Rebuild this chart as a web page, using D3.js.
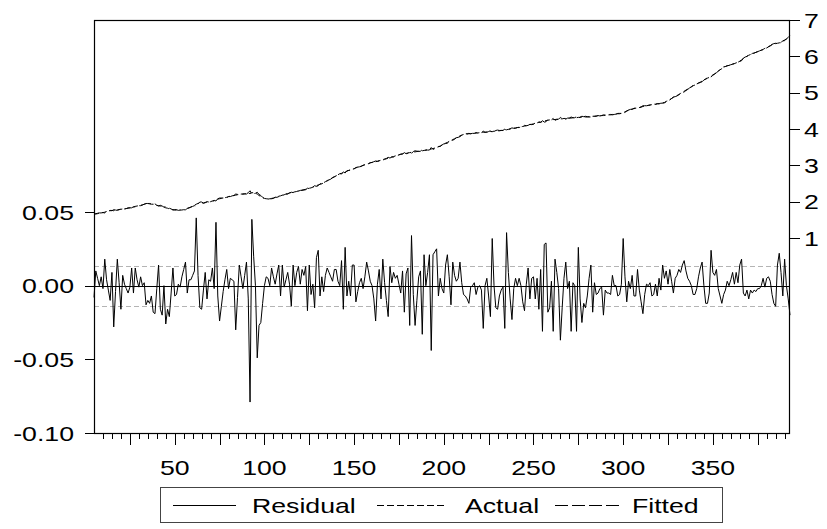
<!DOCTYPE html>
<html><head><meta charset="utf-8">
<script src="https://cdn.jsdelivr.net/npm/d3@7"></script>
<style>
body{margin:0;background:#fff}
text{font-family:"Liberation Sans",Arial,sans-serif;fill:#000;font-size:21px}
</style>
</head><body>
<svg id="c" width="827" height="529"></svg>
<script>
const firstObs = 5, lastObs = 393;

const residual = [
-0.008,0.010,0.005,0.000,0.006,-0.002,0.018,0.004,-0.003,-0.010,
0.009,-0.028,-0.004,0.018,0.002,-0.016,0.007,0.001,-0.002,-0.005,
-0.001,0.012,-0.005,0.012,0.004,-0.001,0.006,0.000,0.002,-0.013,
-0.010,-0.012,-0.007,-0.018,-0.019,-0.002,0.014,-0.016,-0.020,0.000,
-0.026,-0.016,-0.021,-0.005,0.012,-0.007,-0.006,0.001,-0.001,0.006,
0.011,0.016,-0.005,0.004,0.004,0.007,0.010,0.046,0.007,-0.015,
-0.016,-0.003,0.009,-0.009,0.004,0.003,0.012,-0.002,0.043,-0.007,
-0.024,-0.014,-0.004,0.004,0.011,-0.002,0.005,0.004,0.003,-0.030,
-0.008,0.014,0.006,-0.002,0.007,0.016,-0.009,-0.079,0.045,0.020,
0.000,-0.049,-0.027,-0.025,-0.012,0.000,0.006,0.005,0.000,0.012,
0.006,0.001,0.008,0.014,-0.007,0.014,-0.001,0.004,0.009,0.001,
-0.014,0.014,0.000,0.009,0.013,0.001,0.011,0.007,0.013,-0.017,
0.014,-0.006,0.001,-0.015,0.019,0.024,-0.007,0.006,-0.004,0.007,
0.012,0.009,0.006,0.003,0.011,0.011,0.003,0.000,0.017,-0.016,
0.026,-0.007,0.003,-0.007,0.014,0.014,-0.011,-0.004,0.002,0.005,
-0.002,0.006,0.016,0.010,0.003,0.000,-0.009,-0.024,0.001,0.011,
-0.009,0.018,0.002,-0.010,-0.021,0.013,0.002,0.009,0.005,0.007,
0.001,-0.005,0.010,-0.018,0.008,0.012,-0.027,0.034,-0.006,-0.027,
-0.010,0.006,0.010,-0.033,0.021,0.000,0.009,0.021,-0.044,0.021,
0.023,0.025,-0.007,0.005,-0.002,-0.005,0.014,0.021,0.006,-0.013,
0.016,0.007,0.003,0.005,0.016,0.002,-0.006,-0.007,-0.009,-0.012,
-0.001,0.000,0.002,-0.006,-0.001,0.000,-0.003,-0.029,0.000,0.005,
-0.007,-0.021,0.032,0.000,-0.015,-0.016,-0.007,-0.003,-0.001,-0.029,
0.036,0.009,-0.009,-0.023,-0.002,0.005,0.000,0.005,0.000,-0.011,
-0.017,0.001,0.012,-0.009,0.005,0.006,-0.009,0.005,-0.016,0.011,
-0.031,0.028,0.029,-0.018,-0.015,0.003,-0.031,0.018,0.009,-0.002,
-0.037,-0.015,0.005,0.016,-0.002,0.003,-0.031,0.002,0.000,-0.031,
0.026,-0.009,-0.025,-0.012,-0.015,-0.007,0.005,0.014,-0.018,0.002,
-0.006,-0.005,-0.002,-0.001,-0.020,-0.003,-0.005,-0.005,-0.006,0.007,
0.000,0.000,-0.007,-0.006,0.001,0.032,0.006,-0.011,0.003,-0.002,
0.007,-0.007,-0.007,0.011,-0.003,-0.011,-0.019,-0.006,0.001,0.000,
0.002,-0.007,-0.006,0.001,-0.007,0.005,-0.003,0.014,0.005,0.010,
0.001,0.011,0.003,-0.005,0.005,0.007,0.011,0.009,0.014,0.017,
0.010,0.005,0.003,0.000,-0.006,-0.006,-0.002,0.006,0.012,0.016,
0.000,-0.012,-0.012,-0.005,0.024,0.009,0.007,0.011,-0.002,-0.007,
-0.012,-0.006,-0.003,0.003,0.000,0.004,0.009,0.001,0.009,0.002,
0.014,0.018,-0.005,-0.007,-0.003,-0.009,-0.003,-0.005,-0.003,-0.004,
-0.002,-0.002,0.000,0.005,-0.001,0.005,0.006,0.003,-0.006,-0.012,
-0.014,0.014,0.022,0.009,-0.007,0.018,0.000,-0.009,-0.020
];

const actual = [
1.66,1.67,1.68,1.69,1.70,1.70,1.71,1.73,1.74,1.75,
1.76,1.75,1.77,1.78,1.78,1.79,1.80,1.80,1.81,1.82,
1.83,1.84,1.85,1.87,1.88,1.89,1.90,1.91,1.93,1.94,
1.94,1.94,1.93,1.93,1.92,1.90,1.89,1.88,1.86,1.85,
1.83,1.82,1.80,1.79,1.78,1.77,1.77,1.76,1.77,1.77,
1.78,1.79,1.81,1.83,1.85,1.88,1.90,1.93,1.95,1.97,
1.97,1.96,1.98,1.99,1.99,2.00,2.02,2.03,2.06,2.07,
2.08,2.09,2.10,2.11,2.12,2.14,2.15,2.16,2.17,2.18,
2.19,2.20,2.21,2.21,2.22,2.23,2.24,2.22,2.25,2.24,
2.23,2.21,2.17,2.14,2.11,2.09,2.08,2.08,2.08,2.09,
2.10,2.12,2.13,2.15,2.16,2.18,2.19,2.21,2.22,2.24,
2.25,2.26,2.27,2.28,2.30,2.31,2.32,2.33,2.34,2.35,
2.37,2.38,2.40,2.42,2.44,2.46,2.48,2.50,2.52,2.55,
2.58,2.61,2.63,2.66,2.69,2.72,2.74,2.77,2.78,2.80,
2.82,2.84,2.86,2.87,2.89,2.91,2.93,2.95,2.96,2.98,
3.00,3.02,3.04,3.05,3.07,3.08,3.09,3.10,3.11,3.13,
3.14,3.16,3.17,3.18,3.20,3.21,3.23,3.24,3.26,3.27,
3.29,3.30,3.32,3.33,3.33,3.34,3.35,3.36,3.37,3.37,
3.38,3.39,3.40,3.40,3.41,3.42,3.43,3.44,3.45,3.46,
3.48,3.49,3.51,3.53,3.56,3.58,3.61,3.63,3.66,3.68,
3.71,3.73,3.76,3.78,3.81,3.83,3.85,3.86,3.86,3.87,
3.87,3.88,3.88,3.89,3.89,3.90,3.90,3.91,3.91,3.92,
3.92,3.93,3.93,3.94,3.94,3.95,3.95,3.96,3.96,3.97,
3.98,3.99,4.00,4.01,4.02,4.03,4.04,4.05,4.06,4.07,
4.08,4.09,4.11,4.12,4.13,4.14,4.16,4.17,4.18,4.19,
4.20,4.22,4.23,4.24,4.25,4.25,4.26,4.26,4.27,4.27,
4.28,4.28,4.29,4.29,4.30,4.30,4.30,4.31,4.31,4.31,
4.32,4.32,4.32,4.33,4.33,4.33,4.34,4.34,4.35,4.35,
4.35,4.36,4.36,4.37,4.37,4.38,4.38,4.39,4.39,4.40,
4.40,4.41,4.42,4.42,4.43,4.45,4.47,4.49,4.52,4.54,
4.55,4.56,4.57,4.58,4.59,4.60,4.62,4.63,4.64,4.65,
4.66,4.67,4.68,4.68,4.69,4.70,4.71,4.72,4.73,4.76,
4.78,4.81,4.84,4.87,4.90,4.92,4.95,4.98,5.01,5.04,
5.07,5.10,5.13,5.16,5.19,5.21,5.24,5.27,5.29,5.32,
5.35,5.37,5.40,5.42,5.45,5.49,5.52,5.56,5.59,5.63,
5.66,5.70,5.72,5.74,5.75,5.77,5.79,5.80,5.82,5.84,
5.87,5.90,5.94,5.97,6.00,6.03,6.05,6.07,6.09,6.11,
6.13,6.15,6.17,6.19,6.22,6.24,6.27,6.29,6.32,6.34,
6.35,6.36,6.37,6.39,6.42,6.45,6.48,6.51,6.55
];

const fitted = [
1.67,1.66,1.67,1.69,1.69,1.70,1.69,1.73,1.74,1.76,
1.75,1.78,1.77,1.76,1.78,1.81,1.79,1.80,1.81,1.83,
1.83,1.83,1.86,1.86,1.88,1.89,1.89,1.91,1.93,1.95,
1.95,1.95,1.94,1.95,1.94,1.90,1.88,1.90,1.88,1.85,
1.86,1.84,1.82,1.80,1.77,1.78,1.78,1.76,1.77,1.76,
1.77,1.77,1.82,1.83,1.85,1.87,1.89,1.88,1.94,1.99,
1.99,1.96,1.97,2.00,1.99,2.00,2.01,2.03,2.02,2.08,
2.10,2.10,2.10,2.11,2.11,2.14,2.14,2.16,2.17,2.21,
2.20,2.19,2.20,2.21,2.21,2.21,2.25,2.30,2.20,2.22,
2.23,2.26,2.20,2.17,2.12,2.09,2.07,2.07,2.08,2.08,
2.09,2.12,2.12,2.14,2.17,2.17,2.19,2.21,2.21,2.24,
2.26,2.25,2.27,2.27,2.29,2.31,2.31,2.32,2.33,2.37,
2.36,2.39,2.40,2.44,2.42,2.44,2.49,2.49,2.52,2.54,
2.57,2.60,2.62,2.66,2.68,2.71,2.74,2.77,2.76,2.82,
2.79,2.85,2.86,2.88,2.88,2.90,2.94,2.95,2.96,2.97,
3.00,3.01,3.02,3.04,3.07,3.08,3.10,3.12,3.11,3.12,
3.15,3.14,3.17,3.19,3.22,3.20,3.23,3.23,3.25,3.26,
3.29,3.31,3.31,3.35,3.32,3.33,3.38,3.33,3.38,3.40,
3.39,3.38,3.39,3.43,3.39,3.42,3.42,3.42,3.49,3.44,
3.46,3.46,3.52,3.52,3.56,3.59,3.60,3.61,3.65,3.69,
3.69,3.72,3.76,3.77,3.79,3.83,3.86,3.87,3.87,3.88,
3.87,3.88,3.88,3.90,3.89,3.90,3.90,3.94,3.91,3.91,
3.93,3.95,3.90,3.94,3.96,3.97,3.96,3.96,3.96,4.00,
3.94,3.98,4.01,4.03,4.02,4.02,4.04,4.04,4.06,4.08,
4.10,4.09,4.10,4.13,4.12,4.13,4.17,4.16,4.20,4.18,
4.23,4.19,4.20,4.26,4.27,4.25,4.29,4.24,4.26,4.27,
4.32,4.30,4.28,4.27,4.30,4.30,4.33,4.31,4.31,4.34,
4.29,4.33,4.35,4.34,4.35,4.34,4.33,4.33,4.37,4.35,
4.36,4.37,4.36,4.37,4.39,4.38,4.39,4.40,4.40,4.39,
4.40,4.41,4.43,4.43,4.43,4.42,4.46,4.50,4.52,4.54,
4.54,4.57,4.58,4.57,4.59,4.61,4.64,4.64,4.64,4.65,
4.66,4.68,4.69,4.68,4.70,4.69,4.71,4.71,4.72,4.75,
4.78,4.80,4.84,4.88,4.89,4.91,4.94,4.97,5.00,5.02,
5.06,5.09,5.13,5.16,5.20,5.22,5.24,5.26,5.28,5.30,
5.35,5.38,5.41,5.43,5.43,5.48,5.51,5.55,5.59,5.64,
5.67,5.71,5.72,5.74,5.75,5.77,5.78,5.80,5.81,5.84,
5.86,5.88,5.95,5.98,6.00,6.04,6.05,6.08,6.09,6.11,
6.13,6.15,6.17,6.18,6.22,6.23,6.26,6.29,6.33,6.35,
6.36,6.35,6.35,6.38,6.43,6.43,6.48,6.52,6.57
];

const leftTicks = [-0.10, -0.05, 0.00, 0.05];
const leftTickLabels = ["-0.10", "-0.05", "0.00", "0.05"];
const rightTicks = [1, 2, 3, 4, 5, 6, 7];
const xLabelTicks = [50, 100, 150, 200, 250, 300, 350];
const residualSE = 0.0136;
const legendLabels = ["Residual", "Actual", "Fitted"];

// ---- layout ----
const L = 94, R = 790, T = 20, B = 433;
const SX = 1.27; // horizontal glyph stretch of the original export
const svg = d3.select("#c");

const obs = d3.range(firstObs, lastObs + 1);
const x = d3.scaleLinear().domain([firstObs, lastObs]).range([L, R]);
const yL = d3.scaleLinear().domain([-0.10, 0.05]).range([B, 212]);
const yR = d3.scaleLinear().domain([1, 7]).range([238, T]);

function label(str, px, py, anchor) {
  svg.append("text")
    .attr("transform", `translate(${px},${py}) scale(${SX},1)`)
    .attr("text-anchor", anchor)
    .text(str);
}

// SE bands
[residualSE, -residualSE].forEach(v => {
  svg.append("line").attr("x1", L).attr("x2", R)
    .attr("y1", Math.round(yL(v)) + 0.5).attr("y2", Math.round(yL(v)) + 0.5)
    .attr("stroke", "#b4b4b4").attr("stroke-width", 1).attr("stroke-dasharray", "5,3");
});
// zero line
svg.append("line").attr("x1", L).attr("x2", R)
  .attr("y1", Math.round(yL(0)) + 0.5).attr("y2", Math.round(yL(0)) + 0.5)
  .attr("stroke", "#000").attr("stroke-width", 1);

const lineL = d3.line().x((d, i) => x(obs[i])).y(d => yL(d));
const lineR = d3.line().x((d, i) => x(obs[i])).y(d => yR(d));

svg.append("path").attr("d", lineL(residual)).attr("fill", "none")
  .attr("stroke", "#000").attr("stroke-width", 1);
svg.append("path").attr("d", lineR(actual)).attr("fill", "none")
  .attr("stroke", "#000").attr("stroke-width", 1).attr("stroke-dasharray", "5,3");
svg.append("path").attr("d", lineR(fitted)).attr("fill", "none")
  .attr("stroke", "#000").attr("stroke-width", 1).attr("stroke-dasharray", "12,4");

// axes (tick marks)
const minorTicks = d3.range(10, lastObs, 5).filter(v => v % 25 !== 0);
const majorTicks = d3.range(25, lastObs, 25);
const gx1 = svg.append("g").attr("transform", `translate(0,${B})`)
  .call(d3.axisBottom(x).tickValues(minorTicks).tickSize(6).tickFormat(""));
const gx2 = svg.append("g").attr("transform", `translate(0,${B})`)
  .call(d3.axisBottom(x).tickValues(majorTicks).tickSize(12).tickFormat(""));
const gl = svg.append("g").attr("transform", `translate(${L},0)`)
  .call(d3.axisLeft(yL).tickValues(leftTicks).tickSize(9).tickFormat(""));
const gr = svg.append("g").attr("transform", `translate(${R},0)`)
  .call(d3.axisRight(yR).tickValues(rightTicks).tickSize(10).tickFormat(""));
[gx1, gx2, gl, gr].forEach(g => {
  g.select(".domain").remove();
  g.selectAll("line").attr("stroke", "#000").attr("shape-rendering", "crispEdges");
});

// frame
svg.append("rect").attr("x", L + 0.5).attr("y", T + 0.5)
  .attr("width", R - L - 1).attr("height", B - T)
  .attr("fill", "none").attr("stroke", "#000").attr("stroke-width", 1.2);

// tick labels
leftTicks.forEach((v, i) => label(leftTickLabels[i], 74, yL(v) + 7.5, "end"));
rightTicks.forEach(v => label(String(v), 804, yR(v) + 7.5, "start"));
xLabelTicks.forEach(v => label(String(v), x(v), 475, "middle"));

// legend
const lg = svg.append("g");
lg.append("rect").attr("x", 160.5).attr("y", 487.5).attr("width", 562).attr("height", 35)
  .attr("fill", "#fff").attr("stroke", "#444").attr("stroke-width", 1);
const legendItems = [
  {x1: 173, x2: 236, tx: 252, dash: null},
  {x1: 377, x2: 447, tx: 465, dash: "7,3"},
  {x1: 555, x2: 621, tx: 632, dash: "13,4"}
];
legendItems.forEach((it, i) => {
  const ln = lg.append("line").attr("x1", it.x1).attr("x2", it.x2)
    .attr("y1", 505.5).attr("y2", 505.5).attr("stroke", "#000").attr("stroke-width", 1);
  if (it.dash) ln.attr("stroke-dasharray", it.dash);
  label(legendLabels[i], it.tx, 513, "start");
});
</script>
</body></html>
